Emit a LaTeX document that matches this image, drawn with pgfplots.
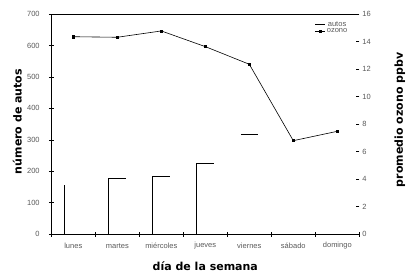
\documentclass[border=0pt]{standalone}
\usepackage{pgfplots}
\pgfplotsset{compat=1.18}
\usepackage{fontspec}
\setmainfont{Liberation Sans}
\newfontfamily\labelfont{DejaVu Sans}
\newcommand\lbl{\labelfont\fontsize{11}{13}\selectfont\bfseries}
\begin{document}
\begin{tikzpicture}
\pgfplotsset{
  common/.style={
    scale only axis, width=308pt, height=220.3pt,
    xmin=0, xmax=7,
    /pgf/number format/assume math mode=true,
    tick label style={font=\fontsize{7.5}{8}\selectfont, text=black!65},
  }
}
\begin{axis}[common, name=ax,
  ymin=0, ymax=700, ytick={0,100,...,700},
  axis x line=box, axis y line=left, axis line style={-, line width=0.8pt},
  xtick={0,...,7}, xticklabels={}, xtick pos=bottom, ytick pos=left,
  tick align=center, major tick length=5pt,
  tick style={black, line width=0.7pt},
  extra x ticks={0.5,1.5,...,6.5},
  extra x tick labels={lunes,martes,miércoles,jueves,viernes,sábado,domingo},
  extra x tick style={major tick length=0pt},
  xticklabel style={anchor=center, yshift=-11.4pt},
  yticklabel style={anchor=east, inner sep=0pt, xshift=-9pt},
  xlabel={\lbl día de la semana}, ylabel={\lbl número de autos},
  xlabel style={at={(axis description cs:0.5,-0.144)}, anchor=center},
  ylabel style={at={(axis description cs:-0.11,0.512)}, anchor=center},
]
\addplot[black, line width=1pt] coordinates {(0.3,0) (0.3,157)};
\addplot[black, line width=1pt] coordinates {(1.3,0) (1.3,178) (1.69,178)};
\addplot[black, line width=1pt] coordinates {(2.29,0) (2.29,184) (2.70,184)};
\addplot[black, line width=1pt] coordinates {(3.3,0) (3.3,224) (3.70,224)};
\addplot[black, line width=1pt] coordinates {(4.31,316) (4.70,316)};
\end{axis}
\begin{axis}[common, at={(ax.south west)}, anchor=south west,
  ymin=0, ymax=16, ytick={0,2,...,16},
  axis x line=none, axis y line*=right, y axis line style={draw=none},
  tick align=inside, major tick length=3.5pt,
  tick style={black, line width=0.6pt},
  yticklabel style={anchor=west, inner sep=0pt, xshift=3pt},
  ylabel={\lbl promedio ozono ppbv},
  ylabel style={at={(axis description cs:1.132,0.519)}, anchor=center, rotate=0},
  legend style={draw=none, fill=none, at={(axis description cs:0.846,0.982)}, anchor=north west,
    font=\fontsize{7.5}{8}\selectfont, text=black!65, row sep=-1pt,
    nodes={inner sep=1pt}},
  legend image code/.code={\draw[#1] (0pt,0pt) -- (10pt,0pt); \path[#1] plot coordinates {(5pt,0pt)};},
]
\addlegendimage{black, line width=0.8pt, no markers}
\addlegendentry{autos}
\addplot[black, line width=0.6pt, mark=square*, mark size=1.1pt] coordinates {
 (0.5,14.35) (1.5,14.31) (2.5,14.77) (3.5,13.63) (4.5,12.35) (5.5,6.80) (6.5,7.48)};
\addlegendentry{ozono}
\end{axis}
\pgfresetboundingbox
\path[use as bounding box] ([shift={(-51.3pt,-43.7pt)}]ax.south west) rectangle ++(417pt,278pt);
\end{tikzpicture}
\end{document}
